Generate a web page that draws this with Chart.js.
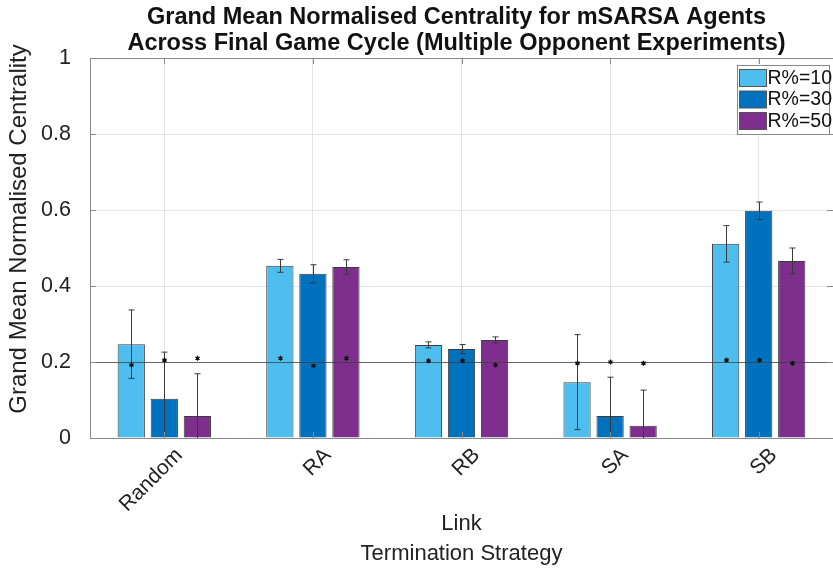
<!DOCTYPE html>
<html>
<head>
<meta charset="utf-8">
<script src="https://cdn.jsdelivr.net/npm/chart.js@4.4.1/dist/chart.umd.min.js"></script>
<style>
html, body { margin: 0; padding: 0; background: #fff; }
</style>
</head>
<body>
<canvas id="centrality_canvas_id" width="833" height="570"></canvas>
<script>
// data
var categories = ['Random', 'RA', 'RB', 'SA', 'SB'];
var seriesNames = ['R%=10', 'R%=30', 'R%=50'];
var mean10 = [0.247, 0.453, 0.245, 0.147, 0.511];
var mean30 = [0.103, 0.432, 0.234, 0.058, 0.598];
var mean50 = [0.058, 0.450, 0.258, 0.032, 0.466];
// half width of the error bars
var err10 = [0.090, 0.017, 0.008, 0.125, 0.048];
var err30 = [0.123, 0.024, 0.012, 0.102, 0.023];
var err50 = [0.111, 0.019, 0.008, 0.094, 0.034];
// the small asterisk markers
var star10 = [0.192, 0.210, 0.203, 0.197, 0.205];
var star30 = [0.205, 0.190, 0.203, 0.200, 0.205];
var star50 = [0.210, 0.210, 0.192, 0.197, 0.197];
var yTicks = [0, 0.2, 0.4, 0.6, 0.8, 1];
var refLine = 0.2;
var yTitle = 'Grand Mean Normalised Centrality';
var titleLines = ['Grand Mean Normalised Centrality for mSARSA Agents',
	'Across Final Game Cycle (Multiple Opponent Experiments)'];

var colors = ['#4DBEEE', '#0072BD', '#7E2F8E'];
var means = [mean10, mean30, mean50];
var errs = [err10, err30, err50];
var stars = [star10, star30, star50];
var fontFamily = "'Liberation Sans', Arial, sans-serif";

var extrasPlugin = {
	id: 'extras',
	afterDatasetsDraw: function(chart) {
		var ctx = chart.ctx;
		var area = chart.chartArea;
		var ys = chart.scales.y;
		ctx.save();
		ctx.beginPath();
		ctx.rect(area.left, area.top, area.right - area.left, area.bottom - area.top);
		ctx.clip();

		// reference line
		var yr = Math.round(ys.getPixelForValue(refLine)) + 0.5;
		ctx.strokeStyle = 'rgba(60,60,60,0.75)';
		ctx.lineWidth = 1;
		ctx.beginPath();
		ctx.moveTo(area.left, yr);
		ctx.lineTo(area.right, yr);
		ctx.stroke();

		// error bars + asterisks
		for (var i = 0; i < means.length; i++) {
			var meta = chart.getDatasetMeta(i);
			for (var j = 0; j < categories.length; j++) {
				var x = Math.round(meta.data[j].x) + 0.5;
				var yTop = ys.getPixelForValue(means[i][j] + errs[i][j]);
				var yBot = ys.getPixelForValue(means[i][j] - errs[i][j]);
				ctx.strokeStyle = '#3a3a3a';
				ctx.lineWidth = 1;
				ctx.beginPath();
				ctx.moveTo(x, yTop); ctx.lineTo(x, yBot);
				ctx.moveTo(x - 3, yTop); ctx.lineTo(x + 3, yTop);
				ctx.moveTo(x - 3, yBot); ctx.lineTo(x + 3, yBot);
				ctx.stroke();

				var ysr = ys.getPixelForValue(stars[i][j]);
				ctx.strokeStyle = '#111';
				ctx.lineWidth = 1.3;
				ctx.beginPath();
				for (var a = 0; a < 3; a++) {
					var ang = Math.PI / 2 + a * Math.PI / 3;
					ctx.moveTo(x - 2.5 * Math.cos(ang), ysr - 2.5 * Math.sin(ang));
					ctx.lineTo(x + 2.5 * Math.cos(ang), ysr + 2.5 * Math.sin(ang));
				}
				ctx.stroke();
				ctx.fillStyle = '#111';
				ctx.beginPath();
				ctx.arc(x, ysr, 1.5, 0, Math.PI * 2);
				ctx.fill();
			}
		}
		ctx.restore();

		// axes box and inward ticks
		ctx.save();
		ctx.strokeStyle = '#8a8a8a';
		ctx.lineWidth = 1;
		ctx.strokeRect(Math.round(area.left) + 0.5, Math.round(area.top) + 0.5,
			Math.round(area.right - area.left), Math.round(area.bottom - area.top));
		ctx.beginPath();
		yTicks.forEach(function(v) {
			var yy = Math.round(ys.getPixelForValue(v)) + 0.5;
			ctx.moveTo(area.left, yy); ctx.lineTo(area.left + 6, yy);
			ctx.moveTo(area.right, yy); ctx.lineTo(area.right - 6, yy);
		});
		categories.forEach(function(c, k) {
			var xx = Math.round(chart.scales.x.getPixelForValue(k)) + 0.5;
			ctx.moveTo(xx, area.bottom); ctx.lineTo(xx, area.bottom - 6);
			ctx.moveTo(xx, area.top); ctx.lineTo(xx, area.top + 6);
		});
		ctx.stroke();
		ctx.restore();

		// title, centred over the axes rather than the canvas
		ctx.save();
		ctx.font = 'bold 23.5px ' + fontFamily;
		ctx.fillStyle = '#111';
		ctx.textAlign = 'center';
		ctx.textBaseline = 'middle';
		var cx = (area.left + area.right) / 2 - 5;
		titleLines.forEach(function(t, k) {
			ctx.fillText(t, cx, 18 + k * 26);
		});
		ctx.restore();

		// y axis title, centred a bit above the middle as in the original
		ctx.save();
		ctx.font = '24px ' + fontFamily;
		ctx.fillStyle = '#222';
		ctx.textAlign = 'center';
		ctx.textBaseline = 'middle';
		ctx.translate(19, 229);
		ctx.rotate(-Math.PI / 2);
		ctx.fillText(yTitle, 0, 0);
		ctx.restore();

		// legend box in the upper right corner
		ctx.save();
		var bx = 737.5, by = 65.5, bw = 92, bh = 69;
		ctx.fillStyle = '#fff';
		ctx.fillRect(bx, by, bw, bh);
		ctx.strokeStyle = '#8a8a8a';
		ctx.strokeRect(bx, by, bw, bh);
		ctx.font = '19.5px ' + fontFamily;
		ctx.textBaseline = 'middle';
		for (var s = 0; s < seriesNames.length; s++) {
			var sy = by + 4 + s * 21.5;
			ctx.fillStyle = colors[s];
			ctx.fillRect(bx + 2, sy, 27, 17);
			ctx.strokeStyle = '#555';
			ctx.strokeRect(bx + 2, sy, 27, 17);
			ctx.fillStyle = '#111';
			ctx.fillText(seriesNames[s], bx + 30, sy + 9);
		}
		ctx.restore();
	}
};

var datasets = means.map(function(m, i) {
	return {
		label: seriesNames[i],
		data: m,
		backgroundColor: colors[i],
		borderColor: '#3c3c3c',
		borderWidth: 1,
		categoryPercentage: 0.667,
		barPercentage: 0.825
	};
});

var ctx = document.getElementById('centrality_canvas_id').getContext('2d');
new Chart(ctx, {
	type: 'bar',
	data: { labels: categories, datasets: datasets },
	options: {
		responsive: false,
		animation: false,
		devicePixelRatio: 1,
		layout: { padding: { left: 0, right: -8, top: 58, bottom: 0 } },
		plugins: {
			legend: { display: false },
			tooltip: { enabled: false },
			title: { display: false }
		},
		scales: {
			x: {
				grid: { color: '#e4e4e4', offset: false, drawTicks: false },
				border: { display: false },
				ticks: {
					color: '#222',
					font: { family: fontFamily, size: 21 },
					minRotation: 45, maxRotation: 45,
					autoSkip: false,
					padding: 5,
					labelOffset: 15
				},
				title: {
					display: true,
					text: ['Link', 'Termination Strategy'],
					color: '#222',
					font: { family: fontFamily, size: 22, lineHeight: 1.36 },
					padding: { top: 0, bottom: 1 }
				},
				afterFit: function(scale) { scale.height = 132; }
			},
			y: {
				min: 0, max: 1,
				afterBuildTicks: function(scale) {
					scale.ticks = yTicks.map(function(v) { return { value: v }; });
				},
				grid: { color: '#e4e4e4', drawTicks: false },
				border: { display: false },
				ticks: {
					color: '#222',
					font: { family: fontFamily, size: 21.5 },
					padding: 19,
					callback: function(v) { return String(+v.toFixed(1)); }
				},
				afterFit: function(scale) { scale.width = 90; }
			}
		}
	},
	plugins: [extrasPlugin]
});
</script>
</body>
</html>
